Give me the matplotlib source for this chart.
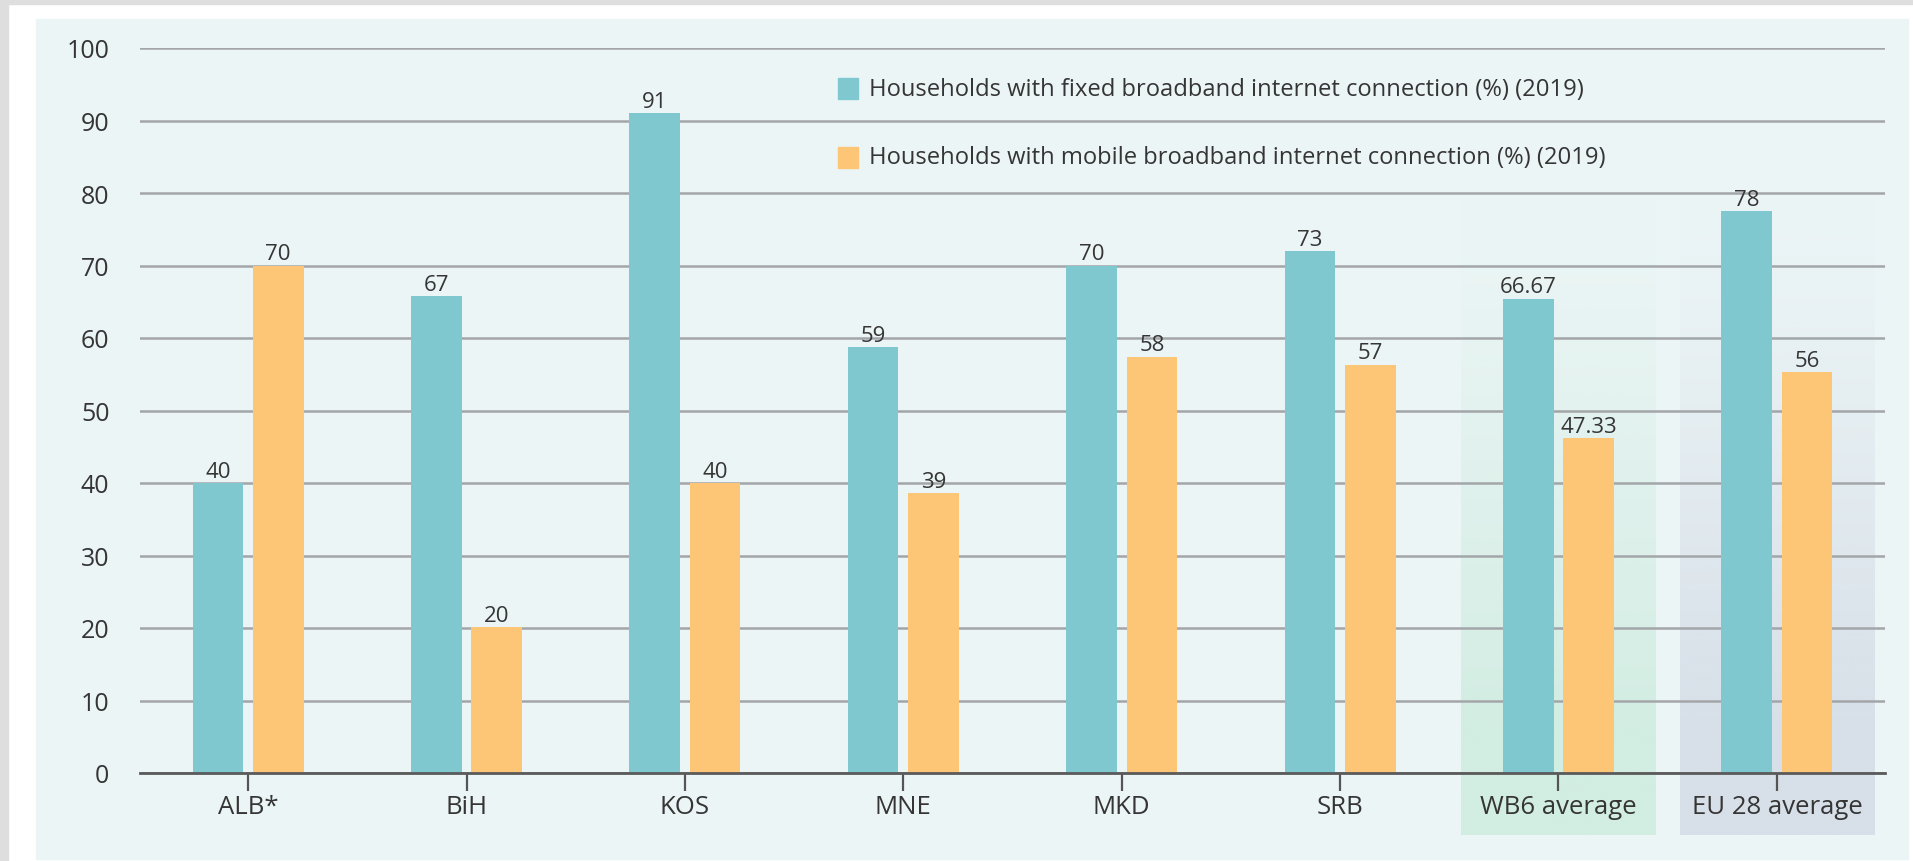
import matplotlib
matplotlib.use("Agg")
import matplotlib.pyplot as plt
import numpy as np
from matplotlib.patches import Rectangle
from matplotlib.colors import to_rgb

categories = ["ALB*", "BiH", "KOS", "MNE", "MKD", "SRB", "WB6 average", "EU 28 average"]
fixed = [40, 65.8, 91, 58.7, 70, 72, 65.4, 77.5]
mobile = [70, 20.1, 40, 38.6, 57.4, 56.3, 46.2, 55.3]
fixed_labels = ["40", "67", "91", "59", "70", "73", "66.67", "78"]
mobile_labels = ["70", "20", "40", "39", "58", "57", "47.33", "56"]
legend_labels = ["Households with fixed broadband internet connection (%) (2019)",
                 "Households with mobile broadband internet connection (%) (2019)"]
yticks = list(range(0, 101, 10))

TEAL = "#80c8cf"
ORANGE = "#fdc576"
PANEL = "#ecf5f6"
TEXT = "#353535"
FONT = ["Open Sans", "DejaVu Sans"]

W, H = 1913, 862
fig = plt.figure(figsize=(W / 100, H / 100), dpi=100, facecolor="white")


def fx(px):
    return px / W


def fy(py):
    return 1 - py / H


# outer frame and panel
fig.patches.append(Rectangle((0, fy(5)), 1, 5 / H, transform=fig.transFigure,
                             color="#dedede", zorder=-10))
fig.patches.append(Rectangle((0, 0), fx(8), 1, transform=fig.transFigure,
                             color="#dedede", zorder=-10))
fig.patches.append(Rectangle((fx(36), fy(860)), fx(1908 - 36), (860 - 20) / H,
                             transform=fig.transFigure, color=PANEL, zorder=-10))

ax = fig.add_axes([fx(140), fy(774), fx(1885 - 140), (774 - 49) / H])
ax.set_facecolor("none")

x = np.arange(len(categories))
bw = 0.232
off = 0.138

# shaded bands behind the two averages (fade towards the top)
ys = np.linspace(-8.5, 80, 200)
alpha = np.clip((80 - ys) / 75, 0, 1) ** 1.2
for idx, col in [(6, "#d2ede2"), (7, "#d7dfe8")]:
    rgb = to_rgb(col)
    img = np.zeros((len(ys), 1, 4))
    img[:, 0, :3] = rgb
    img[:, 0, 3] = alpha
    ax.imshow(img, extent=[idx - 0.445, idx + 0.445, -8.5, 80], origin="lower",
              aspect="auto", zorder=0.2, clip_on=False, interpolation="bilinear")

ax.bar(x - off, fixed, bw, color=TEAL, zorder=3)
ax.bar(x + off, mobile, bw, color=ORANGE, zorder=3)

for xi, v, s in zip(x - off, fixed, fixed_labels):
    ax.annotate(s, (xi, v), xytext=(0, 1), textcoords="offset points",
                ha="center", va="bottom", fontsize=16, color=TEXT, family=FONT)
for xi, v, s in zip(x + off, mobile, mobile_labels):
    ax.annotate(s, (xi, v), xytext=(0, 1), textcoords="offset points",
                ha="center", va="bottom", fontsize=16, color=TEXT, family=FONT)

ax.set_xlim(-0.495, len(categories) - 0.505)
ax.set_ylim(0, 100)
ax.set_yticks(yticks)
ax.set_yticklabels([str(t) for t in yticks], fontsize=18, color=TEXT, family=FONT)
ax.set_xticks(x)
ax.set_xticklabels(categories, fontsize=18.5, color=TEXT, family=FONT)
ax.tick_params(axis="y", length=0, pad=22)
ax.tick_params(axis="x", length=13, width=1.6, color="#555555", pad=2)

ax.set_axisbelow(True)
ax.yaxis.grid(True, color="#a3a6a9", linewidth=1.8)
for s in ["top", "right", "left"]:
    ax.spines[s].set_visible(False)
ax.spines["bottom"].set_color("#5a5a5a")
ax.spines["bottom"].set_linewidth(2)
ax.spines["bottom"].set_zorder(4)

# legend
for i, (col, lab) in enumerate(zip([TEAL, ORANGE], legend_labels)):
    top = 79 + i * 69
    fig.patches.append(Rectangle((fx(838), fy(top + 21)), fx(20), 21 / H,
                                 transform=fig.transFigure, color=col, zorder=5))
    fig.text(fx(869), fy(top + 10.5), lab, ha="left", va="center", fontsize=17.1,
             color=TEXT, family=FONT)

fig.savefig("out.png", dpi=100, facecolor="white")
